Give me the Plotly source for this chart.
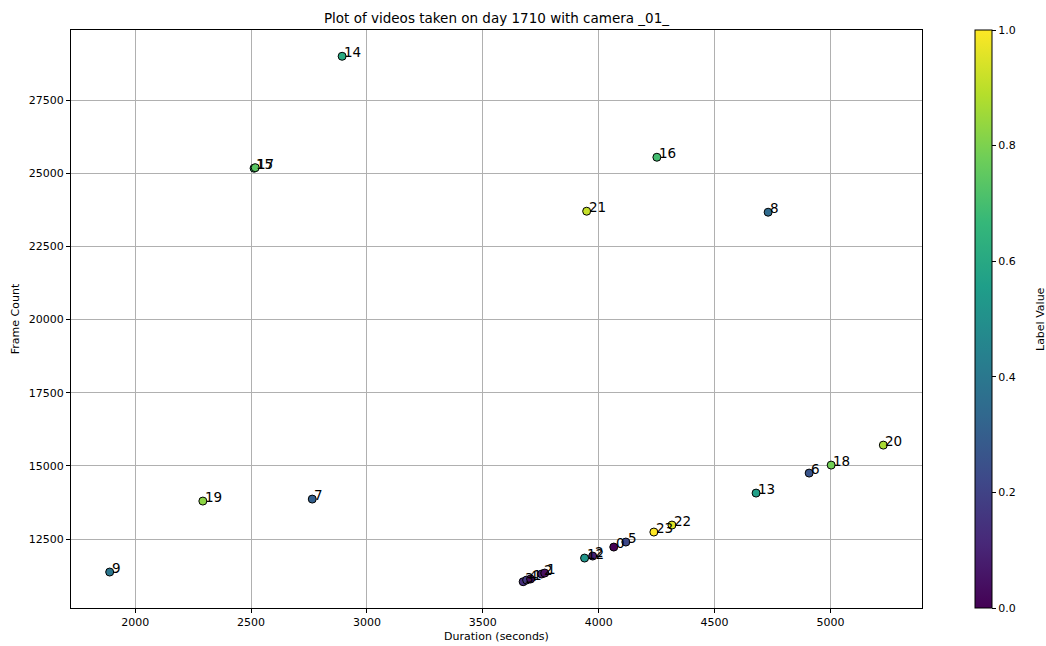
import plotly.graph_objects as go

# Data
labels = [0, 5, 6, 7, 8, 9, 13, 14, 15, 16, 17, 18, 19, 20, 21, 22, 23, 12, 2, 3, 4, 1, 2, 1]
durations = [4065, 4117, 4908, 2764, 4731, 1890, 4679, 2893, 2513, 4251, 2518, 5003, 2292, 5228,
             3948, 4316, 4238, 3939, 3974, 3674, 3689, 3706, 3754, 3767]
frames = [12227, 12398, 14754, 13866, 23668, 11373, 14071, 28996, 25171, 25546, 25190, 15027, 13798,
          15710, 23702, 12978, 12739, 11851, 11919, 11042, 11100, 11134, 11305, 11339]
x_ticks = [2000, 2500, 3000, 3500, 4000, 4500, 5000]
y_ticks = [12500, 15000, 17500, 20000, 22500, 25000, 27500]
cbar_ticks = [0.0, 0.2, 0.4, 0.6, 0.8, 1.0]

max_label = 23
colors = [l / max_label for l in labels]

def padded(vals, frac=0.05):
    lo, hi = min(vals), max(vals)
    pad = (hi - lo) * frac
    return [lo - pad, hi + pad]

FONT = "DejaVu Sans"
L, R, T, B = 71, 124, 30, 38
W, H = 1046, 646
PW = W - L - R

fig = go.Figure()
fig.add_trace(go.Scatter(
    x=durations, y=frames, mode="markers",
    marker=dict(
        size=8, color=colors, colorscale="Viridis", cmin=0, cmax=1,
        line=dict(color="black", width=1),
        colorbar=dict(
            thickness=17, len=1, lenmode="fraction", y=0.5, yanchor="middle",
            x=(975 - L) / PW, xanchor="left", xpad=0, ypad=0,
            outlinecolor="black", outlinewidth=1,
            tickvals=cbar_ticks, ticktext=[f"{t:.1f}" for t in cbar_ticks],
            ticks="outside", ticklen=4, tickcolor="black",
            tickfont=dict(size=11, family=FONT, color="black"),
        ),
    ),
    hoverinfo="skip", showlegend=False,
))

for lab, xv, yv in zip(labels, durations, frames):
    fig.add_annotation(x=xv, y=yv, text=str(lab), showarrow=False,
                       xanchor="left", yanchor="bottom", yshift=-6, xshift=0,
                       font=dict(size=13.5, family=FONT, color="black"))

# colorbar title
fig.add_annotation(xref="paper", yref="paper", x=(1040 - L) / PW, y=0.5, text="Label Value",
                   textangle=-90, showarrow=False, xanchor="center", yanchor="middle",
                   font=dict(size=11, family=FONT, color="black"))

axis_common = dict(
    showgrid=True, gridcolor="#b0b0b0", gridwidth=1,
    showline=True, mirror=True, linecolor="black", linewidth=1,
    ticks="outside", ticklen=4, tickcolor="black",
    tickfont=dict(size=11, family=FONT, color="black"),
    zeroline=False, automargin=False,
)

fig.update_xaxes(range=padded(durations), tickvals=x_ticks, ticktext=[str(v) for v in x_ticks],
                 title=dict(text="Duration (seconds)", font=dict(size=11, family=FONT, color="black"), standoff=4),
                 **axis_common)
fig.update_yaxes(range=padded(frames), tickvals=y_ticks, ticktext=[str(v) for v in y_ticks],
                 title=dict(text="Frame Count", font=dict(size=11, family=FONT, color="black"), standoff=6),
                 **axis_common)

fig.update_layout(
    width=W, height=H,
    margin=dict(l=L, r=R, t=T, b=B, autoexpand=False),
    plot_bgcolor="white", paper_bgcolor="white",
    title=dict(text="Plot of videos taken on day 1710 with camera _01_", x=(L + 922) / 2 / W,
               xanchor="center", y=1 - 18 / H, yanchor="middle",
               font=dict(size=13.5, family=FONT, color="black")),
    font=dict(family=FONT),
)

fig.write_html("out.html")
